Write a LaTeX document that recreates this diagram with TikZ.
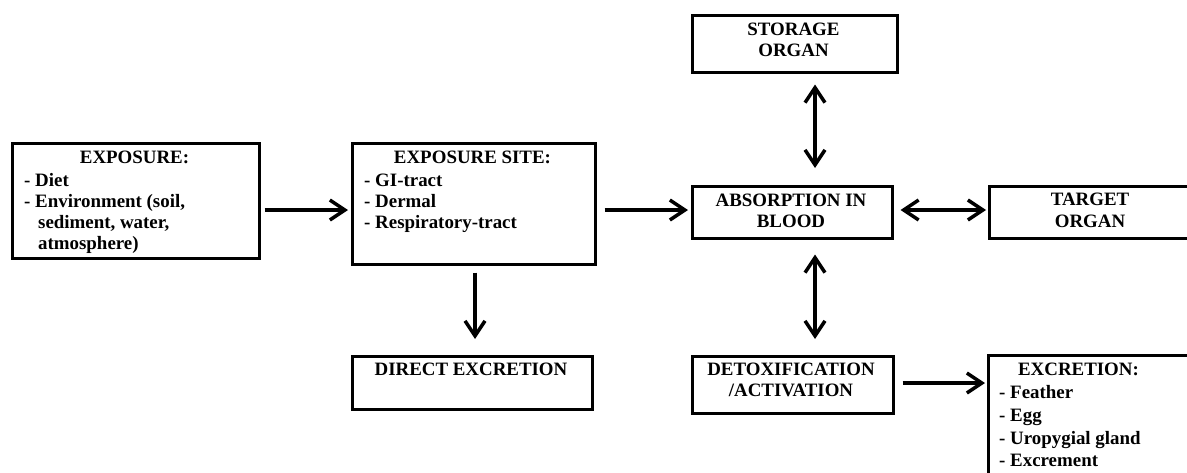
\documentclass[tikz,border=0pt]{standalone}
\usepackage{fontspec}
\setmainfont{Liberation Serif}
\usetikzlibrary{arrows.meta}
\begin{document}
\begin{tikzpicture}[x=1pt,y=-1pt,
  box/.style={draw, line width=2.5pt, inner sep=0pt, anchor=north west, rectangle},
  txt/.style={inner sep=0pt, font=\fontsize{18.9}{21.5}\selectfont\bfseries},
  ctr/.style={txt, anchor=base},
  lft/.style={txt, anchor=base west},
  barb/.tip={Straight Barb[length=15pt,width=20pt]},
  conn/.style={line width=3.5pt, -barb},
  dconn/.style={line width=3.5pt, barb-barb},
]
\useasboundingbox (0,0) rectangle (1187,472);

% boxes
\node[box, minimum width=247pt, minimum height=115pt] (exp) at (11,142) {};
\node[box, minimum width=243pt, minimum height=121pt] (site) at (351,142) {};
\node[box, minimum width=205pt, minimum height=57pt] (stor) at (691,14) {};
\node[box, minimum width=200pt, minimum height=52pt] (abs) at (691,185) {};
\node[box, minimum width=205pt, minimum height=52pt] (tgt) at (988,185) {};
\node[box, minimum width=240pt, minimum height=53pt] (dir) at (351,355) {};
\node[box, minimum width=201pt, minimum height=57pt] (det) at (691,355) {};
\node[box, minimum width=206pt, minimum height=130pt] (exc) at (987,354) {};

% texts
\node[ctr] (exp-t) at (134.5,163) {EXPOSURE:};
\node[lft] (exp-1) at (24,186) {- Diet};
\node[lft] (exp-2) at (24,207) {- Environment (soil,};
\node[lft] (exp-3) at (38,228) {sediment, water,};
\node[lft] (exp-4) at (38,249) {atmosphere)};

\node[ctr] (site-t) at (472.5,163) {EXPOSURE SITE:};
\node[lft] (site-1) at (364,186) {- GI-tract};
\node[lft] (site-2) at (364,207) {- Dermal};
\node[lft] (site-3) at (364,228) {- Respiratory-tract};

\node[ctr] (stor-1) at (793.5,35) {STORAGE};
\node[ctr] (stor-2) at (793.5,56) {ORGAN};

\node[ctr] (abs-1) at (791,206) {ABSORPTION IN};
\node[ctr] (abs-2) at (791,227) {BLOOD};

\node[ctr] (tgt-1) at (1090,205) {TARGET};
\node[ctr] (tgt-2) at (1090,227) {ORGAN};

\node[ctr] (dir-t) at (471,375) {DIRECT EXCRETION};

\node[ctr] (det-1) at (791,375) {DETOXIFICATION};
\node[ctr] (det-2) at (791,396) {/ACTIVATION};

\node[ctr] (exc-t) at (1078.5,375) {EXCRETION:};
\node[lft] (exc-1) at (999,398) {- Feather};
\node[lft] (exc-2) at (999,421) {- Egg};
\node[lft] (exc-3) at (999,444) {- Uropygial gland};
\node[lft] (exc-4) at (999,466) {- Excrement};

% guide coordinates
\coordinate (hy) at (0,210);
\coordinate (ly) at (0,383);
\coordinate (vx) at (815,0);
\coordinate (sx) at (475,0);

% connectors
\draw[conn, shorten <=4pt, shorten >=3pt] (exp.east |- hy) -- (site.west |- hy);
\draw[conn, shorten <=8pt, shorten >=3pt] (site.east |- hy) -- (abs.west |- hy);
\draw[dconn, shorten <=7pt, shorten >=2pt] (abs.east |- hy) -- (tgt.west |- hy);
\draw[dconn, shorten <=11pt, shorten >=17pt] (stor.south -| vx) -- (abs.north -| vx);
\draw[dconn, shorten <=15pt, shorten >=16pt] (abs.south -| vx) -- (det.north -| vx);
\draw[conn, shorten <=7pt, shorten >=16pt] (site.south -| sx) -- (dir.north -| sx);
\draw[conn, shorten <=8pt, shorten >=2pt] (det.east |- ly) -- (exc.west |- ly);
\end{tikzpicture}
\end{document}
